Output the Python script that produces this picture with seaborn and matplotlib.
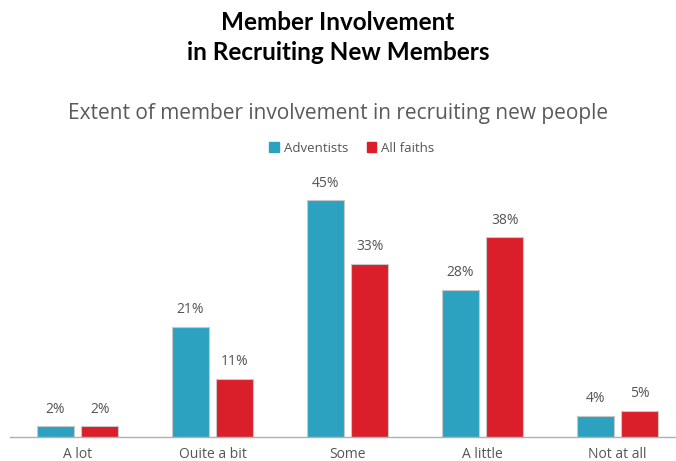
import numpy as np
import pandas as pd
import seaborn as sns
import matplotlib.pyplot as plt

categories = ['A lot', 'Ouite a bit', 'Some', 'A little', 'Not at all']
adventists = [2, 21, 45, 28, 4]
all_faiths = [2, 11, 33, 38, 5]
series = ['Adventists', 'All faiths']
colors = ['#2CA2C0', '#DA1F2A']

df = pd.DataFrame({
    'category': categories * 2,
    'value': adventists + all_faiths,
    'group': [series[0]] * len(categories) + [series[1]] * len(categories),
})

sns.set_theme(style='white')
plt.rcParams['font.family'] = ['Open Sans', 'DejaVu Sans']

fig = plt.figure(figsize=(6.76, 4.61), dpi=100)
ax = fig.add_axes([10 / 676, 24 / 461, 666 / 676, 267 / 461])

sns.barplot(data=df, x='category', y='value', hue='group', order=categories,
            hue_order=series, palette=colors, saturation=1, width=0.666, gap=0.177,
            edgecolor='#c8c8c8', linewidth=0.8, ax=ax, legend=False)

ax.set_xlim(-0.5, -0.5 + 666 / 135)
ax.set_ylim(0, 50.8)
for s in ['top', 'right', 'left']:
    ax.spines[s].set_visible(False)
ax.spines['bottom'].set_color('#b0b0b0')
ax.spines['bottom'].set_linewidth(1)
ax.set_yticks([])
ax.set_xlabel('')
ax.set_ylabel('')
ax.tick_params(axis='x', length=0, pad=7, labelsize=10, labelcolor='#555555')

for cont in ax.containers:
    ax.bar_label(cont, labels=[f'{int(v)}%' for v in cont.datavalues],
                 padding=7, fontsize=10, color='#555555')

fig.text(0.5, 1 - 22 / 461, 'Member Involvement', ha='center', va='center',
         fontsize=17.5, fontweight='bold', family=['Lato', 'DejaVu Sans'], color='black')
fig.text(0.5, 1 - 52 / 461, 'in Recruiting New Members', ha='center', va='center',
         fontsize=17.5, fontweight='bold', family=['Lato', 'DejaVu Sans'], color='black')
fig.text(0.5, 1 - 113 / 461, 'Extent of member involvement in recruiting new people',
         ha='center', va='center', fontsize=15, color='#5a5a5a')

# legend
handles = [plt.Rectangle((0, 0), 1, 1, color=c) for c in colors]
fig.legend(handles, series, loc='center', bbox_to_anchor=(352 / 676, 1 - 148 / 461),
           ncol=2, frameon=False, fontsize=9.5, labelcolor='#555555',
           handlelength=0.7, handleheight=0.7, handletextpad=0.4, columnspacing=1.4)

fig.savefig('out.png', dpi=100)
